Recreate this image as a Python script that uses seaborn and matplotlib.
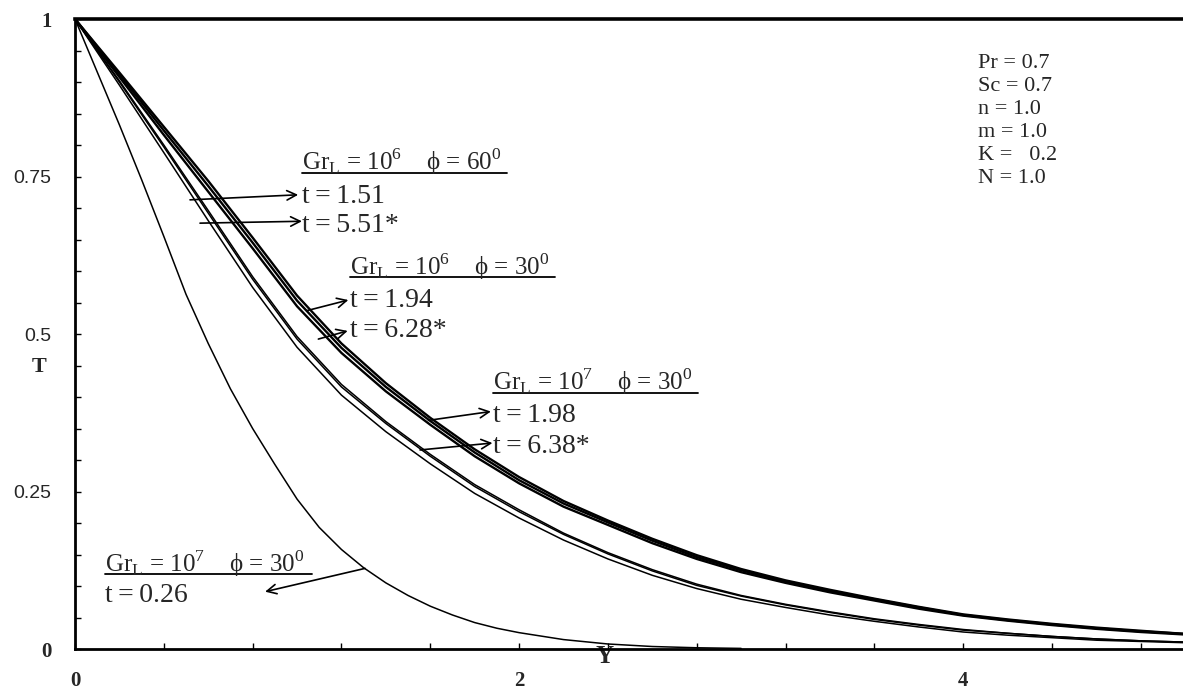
import matplotlib
matplotlib.use("Agg")
import matplotlib.pyplot as plt
import seaborn as sns
import pandas as pd
from matplotlib.ticker import MultipleLocator

# dimensionless distance Y
y_pos = [0.0, 0.2, 0.4, 0.6, 0.8, 1.0, 1.2, 1.4, 1.6, 1.8, 2.0, 2.2, 2.4,
         2.6, 2.8, 3.0, 3.2, 3.4, 3.6, 3.8, 4.0, 4.2, 4.4, 4.6, 4.8, 5.0]
y_pos_fine = [0.0, 0.1, 0.2, 0.3, 0.4, 0.5, 0.6, 0.7, 0.8, 0.9, 1.0, 1.1,
              1.2, 1.3, 1.4, 1.5, 1.6, 1.7, 1.8, 1.9, 2.0, 2.2, 2.4, 2.6,
              2.8, 3.0]

# temperature profiles T(Y)
T_gr6_phi60_t151 = [1.000, 0.908, 0.816, 0.726, 0.636, 0.544, 0.470, 0.409,
                    0.356, 0.306, 0.263, 0.226, 0.197, 0.168, 0.143, 0.122,
                    0.105, 0.090, 0.077, 0.064, 0.053, 0.045, 0.038, 0.032,
                    0.027, 0.023]
T_gr6_phi30_t194 = [1.000, 0.912, 0.823, 0.735, 0.645, 0.553, 0.478, 0.416,
                    0.362, 0.312, 0.268, 0.231, 0.201, 0.172, 0.146, 0.125,
                    0.107, 0.092, 0.079, 0.066, 0.054, 0.046, 0.039, 0.033,
                    0.028, 0.024]
T_gr7_phi30_t198 = [1.000, 0.915, 0.829, 0.743, 0.653, 0.561, 0.485, 0.422,
                    0.367, 0.317, 0.273, 0.235, 0.204, 0.175, 0.149, 0.127,
                    0.109, 0.094, 0.080, 0.067, 0.055, 0.047, 0.040, 0.034,
                    0.029, 0.024]
T_gr6_phi60_t551 = [1.000, 0.902, 0.800, 0.696, 0.591, 0.496, 0.420, 0.361,
                    0.309, 0.261, 0.221, 0.184, 0.153, 0.126, 0.103, 0.085,
                    0.071, 0.059, 0.048, 0.039, 0.031, 0.025, 0.020, 0.016,
                    0.013, 0.011]
T_gr6_phi30_t628 = [1.000, 0.900, 0.797, 0.692, 0.587, 0.492, 0.416, 0.358,
                    0.306, 0.258, 0.218, 0.182, 0.151, 0.124, 0.101, 0.084,
                    0.070, 0.058, 0.047, 0.038, 0.030, 0.025, 0.020, 0.016,
                    0.013, 0.011]
T_gr7_phi30_t638 = [1.000, 0.895, 0.788, 0.680, 0.574, 0.479, 0.403, 0.345,
                    0.294, 0.247, 0.208, 0.173, 0.143, 0.117, 0.096, 0.079,
                    0.066, 0.054, 0.044, 0.035, 0.027, 0.022, 0.018, 0.014,
                    0.012, 0.010]
T_gr7_phi30_t026 = [1.000, 0.916, 0.832, 0.745, 0.655, 0.563, 0.485, 0.413,
                    0.350, 0.293, 0.238, 0.193, 0.158, 0.129, 0.105, 0.085,
                    0.068, 0.054, 0.042, 0.033, 0.026, 0.015, 0.008, 0.004,
                    0.002, 0.001]

series = [
    (y_pos, T_gr6_phi60_t151, 1.7),
    (y_pos, T_gr6_phi30_t194, 1.7),
    (y_pos, T_gr7_phi30_t198, 1.7),
    (y_pos, T_gr6_phi60_t551, 1.1),
    (y_pos, T_gr6_phi30_t628, 1.1),
    (y_pos, T_gr7_phi30_t638, 1.1),
    (y_pos_fine, T_gr7_phi30_t026, 1.1),
]

x_ticks = [0, 2, 4]
y_ticks = [0, 0.25, 0.5, 0.75, 1]
y_tick_labels = ["0", "0.25", "0.5", "0.75", "1"]

params = ["Pr = 0.7", "Sc = 0.7", "n = 1.0", "m = 1.0", "K =   0.2", "N = 1.0"]

sns.set_theme(style="white")
plt.rcParams['font.family'] = ['Liberation Serif', 'DejaVu Serif']
plt.rcParams['mathtext.fontset'] = 'custom'
plt.rcParams['mathtext.rm'] = 'Liberation Serif'

fig = plt.figure(figsize=(11.83, 6.92), dpi=100)
ax = fig.add_axes([0.0634, 0.0621, 0.9366, 0.9104])

for xs, ts, lw in series:
    df = pd.DataFrame({"Y": xs, "T": ts})
    sns.lineplot(data=df, x="Y", y="T", color="black", linewidth=lw, ax=ax)

ax.set_xlim(0, 4.99)
ax.set_ylim(0, 1)

for side in ["left", "bottom"]:
    ax.spines[side].set_linewidth(2.0)
    ax.spines[side].set_color("black")
ax.spines["top"].set_linewidth(2.6)
ax.spines["top"].set_color("black")
ax.spines["right"].set_visible(False)

ax.set_xticks(x_ticks, labels=[str(v) for v in x_ticks], fontsize=15,
              fontweight="bold")
ax.set_yticks(y_ticks, labels=y_tick_labels, fontsize=14,
              family=["Liberation Sans"])
ax.xaxis.set_minor_locator(MultipleLocator(0.4))
ax.yaxis.set_minor_locator(MultipleLocator(0.05))
ax.tick_params(which="both", direction="in", color="black", width=1.0,
               length=4, bottom=True, left=True, top=False, right=False)
ax.tick_params(axis="x", which="major", pad=16)
ax.tick_params(axis="y", which="major", pad=17)
for lab in (ax.get_yticklabels()[0], ax.get_yticklabels()[-1]):
    lab.set_fontfamily(["Liberation Serif"])
    lab.set_fontweight("bold")
    lab.set_fontsize(15)

ax.set_xlabel("Y", fontsize=18, fontweight="bold")
ax.xaxis.set_label_coords(0.478, 0.006)
ax.set_ylabel("T", fontsize=16, fontweight="bold", rotation=0, va="center")
ax.yaxis.set_label_coords(-0.032, 0.448)

ax.grid(False)

fs_head = 18
fs_t = 20
arrow = dict(arrowstyle="->", color="black", lw=1.2, mutation_scale=17,
             shrinkA=0, shrinkB=0)
hs = "\u2009"


def header(x0, base, line_y, x1, gr, phi):
    txt = (r"Gr$_\mathregular{L}$ = 10$^\mathregular{" + gr + r"}$    ϕ = "
           + phi + r"$^\mathregular{0}$")
    ax.text(x0, base, txt, fontsize=fs_head, ha="left", va="baseline")
    ax.plot([x0, x1], [line_y, line_y], color="black", lw=1.3)


def tlabel(x0, base, val):
    ax.text(x0, base, "t" + hs + "=" + hs + val, fontsize=fs_t, ha="left",
            va="baseline")


header(1.022, 0.760, 0.7556, 1.946, "6", "60")
tlabel(1.022, 0.708, "1.51")
tlabel(1.022, 0.662, "5.51*")
ax.annotate("", xy=(1.005, 0.721), xytext=(0.518, 0.713), arrowprops=arrow)
ax.annotate("", xy=(1.022, 0.679), xytext=(0.563, 0.676), arrowprops=arrow)

header(1.239, 0.594, 0.590, 2.162, "6", "30")
tlabel(1.239, 0.543, "1.94")
tlabel(1.239, 0.495, "6.28*")
ax.annotate("", xy=(1.231, 0.554), xytext=(1.043, 0.537), arrowprops=arrow)
ax.annotate("", xy=(1.228, 0.505), xytext=(1.096, 0.492), arrowprops=arrow)

header(1.883, 0.411, 0.407, 2.806, "7", "30")
tlabel(1.883, 0.360, "1.98")
tlabel(1.883, 0.311, "6.38*")
ax.annotate("", xy=(1.873, 0.377), xytext=(1.592, 0.363), arrowprops=arrow)
ax.annotate("", xy=(1.880, 0.327), xytext=(1.554, 0.316), arrowprops=arrow)

header(0.135, 0.123, 0.119, 1.068, "7", "30")
tlabel(0.135, 0.0746, "0.26")
ax.annotate("", xy=(0.856, 0.091), xytext=(1.306, 0.128), arrowprops=arrow)

for i, p in enumerate(params):
    ax.text(4.068, 0.922 - i * 0.0365, p, fontsize=16, ha="left",
            va="baseline")

fig.savefig("out.png", dpi=100, facecolor="white")
